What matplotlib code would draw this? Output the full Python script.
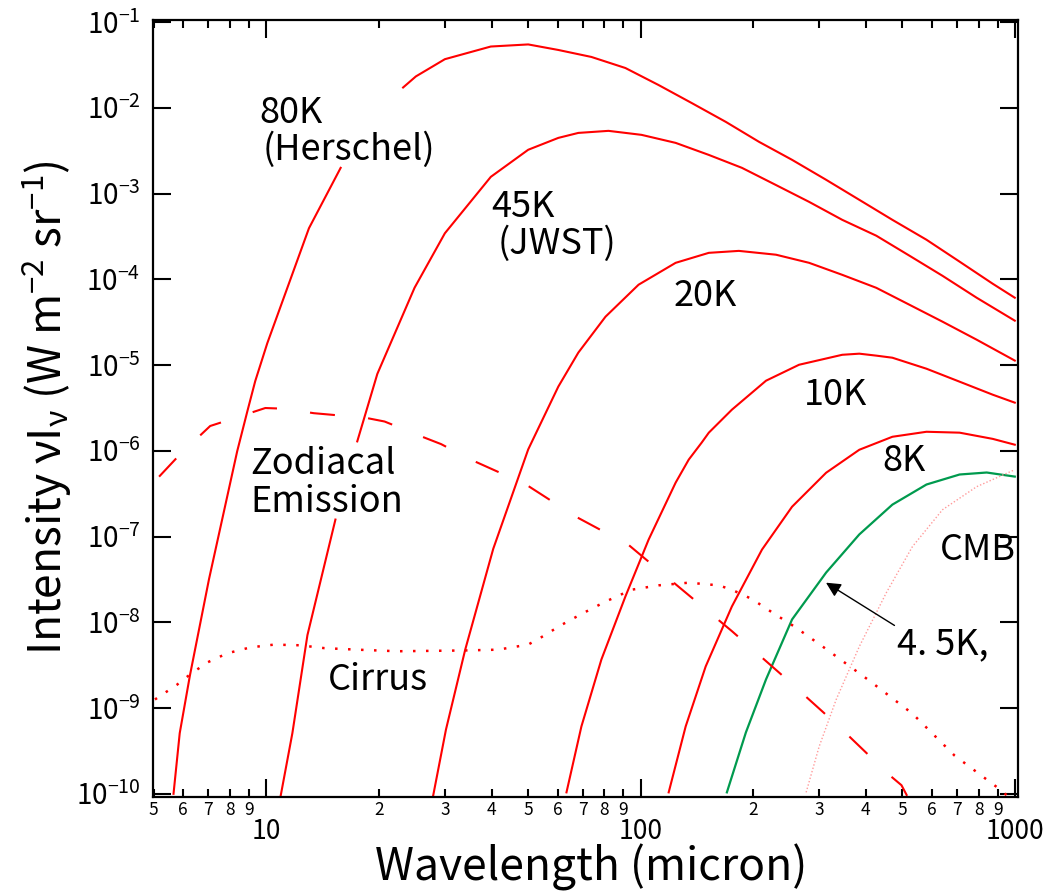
import numpy as np
import matplotlib
matplotlib.use('Agg')
import matplotlib.pyplot as plt
from matplotlib.ticker import LogLocator, FuncFormatter, NullLocator

plt.rcParams['font.family'] = ['Noto Sans CJK JP', 'DejaVu Sans']
plt.rcParams['mathtext.fontset'] = 'custom'
plt.rcParams['mathtext.rm'] = 'Noto Sans CJK JP'
plt.rcParams['mathtext.it'] = 'Noto Sans CJK JP'
plt.rcParams['mathtext.default'] = 'regular'

nan = np.nan

# wavelength (micron) / intensity (W m^-2 sr^-1)
# (nan = where the line is broken under a label)
wl_80 = [5.65, 5.87, 6.25, 7.03, 8.36, 8.9, 9.34, 10.06, 13.0, 15.8, nan, 23.2, 25.1, 30.0,
         39.8, 50.1, 60.3, 73.9, 91.1, 111.7, 137.0, 169.0, 207.3, 254.0, 313.3, 384.2,
         470.9, 580.8, 712.1, 873.0, 1000]
in_80 = [1.0e-10, 5.1e-10, 2.4e-9, 3.2e-8, 9.9e-7, 2.9e-6, 6.5e-6, 1.8e-5, 3.95e-4, 2.0e-3, nan,
         1.73e-2, 2.33e-2, 3.7e-2, 5.2e-2, 5.5e-2, 4.74e-2, 3.93e-2, 2.92e-2, 1.85e-2, 1.14e-2,
         6.87e-3, 4.02e-3, 2.48e-3, 1.45e-3, 8.47e-4, 4.95e-4, 2.90e-4, 1.61e-4, 8.90e-5, 6.11e-5]

wl_45 = [10.9, 11.74, 12.88, 15.3, nan, 17.5, 19.8, 24.9, 30.0, 39.8, 50.1, 60.3, 68.2, 82.1,
         100.6, 124.1, 152.2, 186.6, 230.1, 282.1, 345.9, 426.6, 523.0, 641.2, 790.9, 1000]
in_45 = [9e-11, 5.1e-10, 7.1e-9, 1.58e-7, nan, 1.29e-6, 7.9e-6, 8.0e-5, 3.45e-4, 1.57e-3,
         3.25e-3, 4.47e-3, 5.11e-3, 5.40e-3, 4.85e-3, 3.91e-3, 2.83e-3, 2.00e-3, 1.26e-3,
         8.02e-4, 4.95e-4, 3.23e-4, 1.89e-4, 1.10e-4, 6.11e-5, 3.30e-5]

wl_20 = [27.9, 30.2, 34.0, 40.4, 50.1, 60.3, 68.2, 80.6, 98.8, 124.1, 152.2, 183.1, 230.1,
         282.1, 345.9, 426.6, 523.0, 641.2, 790.9, 1000]
in_20 = [9.4e-11, 5.6e-10, 4.8e-9, 7.2e-8, 1.04e-6, 5.62e-6, 1.40e-5, 3.67e-5, 8.67e-5, 1.56e-4,
         2.04e-4, 2.15e-4, 1.94e-4, 1.56e-4, 1.13e-4, 7.97e-5, 5.06e-5, 3.21e-5, 1.98e-5, 1.13e-5]

wl_10 = [63.4, 69.5, 78.6, 91.1, 105.1, 124.1, 134.5, 145.7, 152.2, 175.4, 216.4,
         265.2, 345.9, 384.2, 426.6, 470.9, 580.8, 712.1, 873.0, 1000]
in_10 = [1.04e-10, 6.11e-10, 3.69e-9, 2.00e-8, 9.23e-8, 4.26e-7, 7.9e-7, 1.25e-6, 1.63e-6,
         3.02e-6, 6.58e-6, 1.01e-5, 1.32e-5, 1.36e-5, 1.29e-5, 1.22e-5, 9.08e-6,
         6.41e-6, 4.52e-6, 3.65e-6]

wl_8 = [118.9, 132.0, 149.3, 175.4, 211.1, 254.0, 313.3, 384.2, 470.9, 580.8, 712.1, 873.0, 1000]
in_8 = [1.04e-10, 6.11e-10, 3.06e-9, 1.53e-8, 7.05e-8, 2.23e-7, 5.56e-7, 1.03e-6, 1.46e-6,
        1.67e-6, 1.63e-6, 1.38e-6, 1.18e-6]

wl_4k5 = [170.1, 191.2, 216.4, 254.0, 313.3, 384.2, 470.9, 580.8, 712.1, 841.3, 1000]
in_4k5 = [1.04e-10, 5.2e-10, 2.16e-9, 1.08e-8, 3.81e-8, 1.06e-7, 2.36e-7, 4.05e-7, 5.3e-7,
          5.59e-7, 5.01e-7]

wl_cmb = [277.0, 300.1, 333.3, 384.2, 453.8, 532.7, 641.2, 790.9, 1000]
in_cmb = [1.04e-10, 3.56e-10, 1.26e-9, 5.22e-9, 2.22e-8, 7.64e-8, 2.06e-7, 3.82e-7, 6.03e-7]

wl_zodi = [5.17, 5.88, 7.08, 8.2, 9.94, 11.2, 13.4, 15.5, 18.7, 20.7, 25.9, 29.3, 35.2, 49.2,
           67.3, 92.9, 126.4, 175.4, 242, 335, 462, 498, 516]
in_zodi = [5.0e-7, 9.1e-7, 1.95e-6, 2.4e-6, 3.16e-6, 3.1e-6, 2.75e-6, 2.6e-6, 2.4e-6, 2.2e-6,
           1.48e-6, 1.2e-6, 7.9e-7, 4.1e-7, 1.7e-7, 8.0e-8, 2.6e-8, 7.9e-9, 2.3e-9, 6.4e-10,
           1.66e-10, 1.26e-10, 9.4e-11]

wl_cirrus = [5.04, 5.77, 6.25, 6.95, 7.86, 9.06, 10.5, 12.3, 14.3, 17.5, 22.4, 34.0, 41.6, 50.1,
             54.3, 61.4, 69.5, 80.5, 94.6, 111.7, 134.5, 161.8, 175.4, 198.4, 224.5, 260, 315,
             408, 533, 690, 895, 958]
in_cirrus = [1.26e-9, 1.87e-9, 2.46e-9, 3.4e-9, 4.35e-9, 5.1e-9, 5.5e-9, 5.4e-9, 5.0e-9, 4.8e-9,
             4.6e-9, 4.7e-9, 4.8e-9, 5.5e-9, 6.7e-9, 9.3e-9, 1.25e-8, 1.74e-8, 2.4e-8, 2.7e-8,
             2.9e-8, 2.7e-8, 2.4e-8, 1.87e-8, 1.31e-8, 8.7e-9, 4.8e-9, 2.1e-9, 8.6e-10, 2.8e-10,
             1.2e-10, 9.4e-11]

y_ticks = [1e-10, 1e-9, 1e-8, 1e-7, 1e-6, 1e-5, 1e-4, 1e-3, 1e-2, 1e-1]

red = '#ff0000'
green = '#009a4e'

fig = plt.figure(figsize=(10.46, 8.91), dpi=100)
ax = fig.add_axes([153 / 1046, 1 - 797 / 891, 865 / 1046, 777 / 891])

for wl, val in [(wl_80, in_80), (wl_45, in_45), (wl_20, in_20), (wl_10, in_10), (wl_8, in_8)]:
    ax.plot(wl, val, color=red, lw=1.5)
ax.plot(wl_4k5, in_4k5, color=green, lw=1.6)
ax.plot(wl_cmb, in_cmb, color='#ff9a9a', lw=1.0, ls=(0, (1, 1.5)))
ax.plot(wl_zodi, in_zodi, color=red, lw=1.5, ls=(0, (12, 16)))
ax.plot(wl_cirrus, in_cirrus, color=red, lw=1.8, ls=(0, (1, 4.2)))

ax.set_xscale('log')
ax.set_yscale('log')
ax.set_xlim(4.98, 1020)
ax.set_ylim(0.918e-10, 0.106)

ax.xaxis.set_major_locator(LogLocator(base=10))
ax.xaxis.set_minor_locator(LogLocator(base=10, subs=np.arange(2, 10)))
ax.xaxis.set_major_formatter(FuncFormatter(lambda v, p: f'{v:g}'))
ax.xaxis.set_minor_formatter(FuncFormatter(
    lambda v, p: str(int(round(v / 10 ** np.floor(np.log10(v) + 1e-9))))))
ax.set_yticks(y_ticks)
ax.yaxis.set_minor_locator(NullLocator())

ax.tick_params(which='both', direction='in', top=True, right=True, width=1.5, color='black')
ax.tick_params(which='major', length=13)
ax.tick_params(which='minor', length=5.8)
ax.tick_params(axis='x', which='major', labelsize=19, pad=15)
ax.tick_params(axis='x', which='minor', labelsize=12.5, pad=3)
ax.tick_params(axis='y', which='major', labelsize=20, pad=9)
for s in ax.spines.values():
    s.set_linewidth(1.6)

fs = 26
ax.text(9.58, 6.7e-3, '80K', fontsize=fs)
ax.text(9.76, 2.5e-3, '(Herschel)', fontsize=fs)
ax.text(39.8, 5.3e-4, '45K', fontsize=fs)
ax.text(41.6, 2.0e-4, '(JWST)', fontsize=fs)
ax.text(122.6, 4.9e-5, '20K', fontsize=fs)
ax.text(273.5, 3.4e-6, '10K', fontsize=fs)
ax.text(442, 5.75e-7, '8K', fontsize=fs)
ax.text(629, 5.35e-8, 'CMB', fontsize=fs)
ax.text(483, 4.2e-9, '4. 5K,', fontsize=fs)
ax.text(9.06, 5.4e-7, 'Zodiacal', fontsize=fs)
ax.text(9.06, 1.95e-7, 'Emission', fontsize=fs)
ax.text(14.6, 1.64e-9, 'Cirrus', fontsize=fs)

ax.annotate('', xy=(313, 2.9e-8), xytext=(477, 9.2e-9),
            arrowprops=dict(arrowstyle='-|>', color='black', lw=1.0,
                            mutation_scale=22, shrinkA=0, shrinkB=0))

fig.text(591 / 1046, 1 - 867 / 891, 'Wavelength (micron)', fontsize=32,
         ha='center', va='center')
fig.text(47 / 1046, 1 - 408 / 891, r'Intensity $\nu$I$_{\nu}$ (W m$^{-2}$ sr$^{-1}$)',
         fontsize=32, rotation=90, ha='center', va='center')

fig.savefig('out.png', dpi=100)
